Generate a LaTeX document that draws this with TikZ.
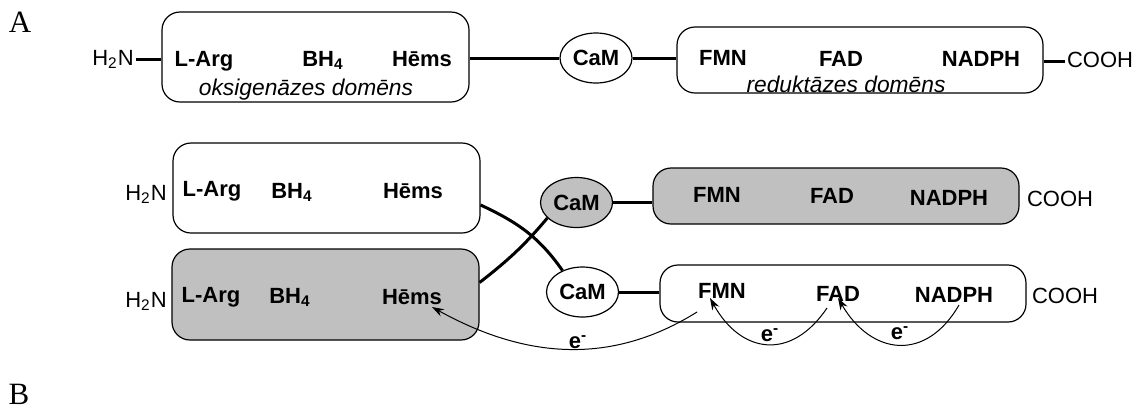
\documentclass[tikz,border=0pt]{standalone}
\usepackage{fontspec}
\setmainfont{Liberation Sans}
\newfontfamily\burtufonts{Liberation Serif}
\usepackage{tikz}
\usetikzlibrary{shapes.geometric, arrows, arrows.meta, calc}
\definecolor{melns}{HTML}{000000}
\definecolor{peleks}{HTML}{C0C0C0}
\tikzset{
  domens/.style={rectangle, rounded corners=9pt, draw=melns, fill=white, line width=0.6pt, inner sep=0pt},
  domensp/.style={domens, fill=peleks},
  kalm/.style={ellipse, draw=melns, fill=white, line width=0.6pt, inner sep=0pt,
               minimum width=36pt, minimum height=25pt, font=\fontsize{11}{13}\selectfont\bfseries},
  kalmp/.style={kalm, fill=peleks},
  kofaktors/.style={font=\fontsize{11}{13}\selectfont\bfseries, inner sep=1pt, text height=8pt, text depth=2pt},
  gals/.style={font=\fontsize{11}{13}\selectfont, inner sep=1pt, text height=8pt, text depth=2pt},
  paraksts/.style={font=\fontsize{11.4}{13}\selectfont\itshape, inner sep=1pt, text height=8.5pt, text depth=2.5pt},
  burts/.style={font=\burtufonts\fontsize{15.5}{17}\selectfont, inner sep=0pt},
  saite/.style={line width=1.5pt, color=melns},
  bulta/.style={-{Stealth[length=6pt,width=4pt,inset=2pt]}, line width=0.5pt, color=melns},
  elektrons/.style={font=\fontsize{11}{13}\selectfont\bfseries, inner sep=0pt}
}

\begin{document}
\begin{tikzpicture}[x=0.5pt, y=-0.5pt]
  \useasboundingbox (0,0) rectangle (1140,409);
  % A: viss enzims vienā virknē
  \node (burtsA) [burts] at (20,22.5) {A};
  \node (h2nA) [gals] at (113,59) {H\textsubscript{2}N};
  \node (oks) [domens, minimum width=153.5pt, minimum height=45pt] at (315.5,57) {};
  \node (argA) [kofaktors] at (204,60) {L-Arg};
  \node (bhA) [kofaktors] at (323,60) {BH\textsubscript{4}};
  \node (hemsA) [kofaktors] at (422,60) {Hēms};
  \node (okspar) [paraksts] at (306,89) {oksigenāzes domēns};
  \node (camA) [kalm] at (596,58) {CaM};
  \node (red) [domens, minimum width=183pt, minimum height=33pt] at (860,60) {};
  \node (fmnA) [kofaktors] at (723,59) {FMN};
  \node (fadA) [kofaktors] at (841,60) {FAD};
  \node (nadphA) [kofaktors] at (981,60) {NADPH};
  \node (redpar) [paraksts] at (846,86) {reduktāzes domēns};
  \node (coohA) [gals] at (1100,61) {COOH};
  \draw [saite] (h2nA.east) -- (h2nA.east -| oks.west);
  \draw [saite] (camA.west -| oks.east) -- (camA.west);
  \draw [saite] (camA.east) -- (camA.east -| red.west);
  \draw [saite] (coohA.west -| red.east) -- (coohA.west);

  % B: dimērs, elektroni iet uz otru monomēru
  \node (burtsB) [burts] at (19,394) {B};
  \node (oksu) [domens, minimum width=153.5pt, minimum height=45pt] at (326.5,188) {};
  \node (h2nu) [gals] at (146,194) {H\textsubscript{2}N};
  \node (argu) [kofaktors] at (212,190) {L-Arg};
  \node (bhu) [kofaktors] at (292,192) {BH\textsubscript{4}};
  \node (hemsu) [kofaktors] at (413,192) {Hēms};
  \node (oksl) [domensp, minimum width=153.5pt, minimum height=45.5pt] at (325.5,294.5) {};
  \node (h2nl) [gals] at (146,301) {H\textsubscript{2}N};
  \node (argl) [kofaktors] at (211,296) {L-Arg};
  \node (bhl) [kofaktors] at (290,297) {BH\textsubscript{4}};
  \node (hemsl) [kofaktors] at (412,298) {Hēms};

  \node (camu) [kalmp] at (576.5,202.5) {CaM};
  \node (redu) [domensp, minimum width=183pt, minimum height=28pt] at (836,196) {};
  \node (fmnu) [kofaktors] at (717,196) {FMN};
  \node (fadu) [kofaktors] at (832,197) {FAD};
  \node (nadphu) [kofaktors] at (949,199) {NADPH};
  \node (coohu) [gals] at (1060,200) {COOH};
  \node (caml) [kalm] at (582.5,292) {CaM};
  \node (redl) [domens, minimum width=183pt, minimum height=28.5pt] at (843,293.5) {};
  \node (fmnl) [kofaktors] at (722,292) {FMN};
  \node (fadl) [kofaktors] at (838,295) {FAD};
  \node (nadphl) [kofaktors] at (954,296) {NADPH};
  \node (coohl) [gals] at (1065,297) {COOH};

  \draw [saite] (camu.east) -- (camu.east -| redu.west);
  \draw [saite] (caml.east) -- (caml.east -| redl.west);
  \draw [saite] ([yshift=-8.5pt]oksu.east) to[out=-25, in=125] (caml.133);
  \draw [saite] ([yshift=6pt]oksl.east) to[out=38, in=-130] (camu.208);

  \draw [bulta] ([xshift=-12.5pt,yshift=-7pt]fmnl.base) to[out=-148, in=-29] ([xshift=10pt,yshift=-1.5pt]hemsl.base);
  \draw [bulta] ([xshift=-5.5pt,yshift=-3.5pt]fadl.base) to[out=-124, in=-61, looseness=1.4] ([xshift=-6pt]fmnl.base);
  \draw [bulta] ([xshift=2.5pt,yshift=-1.5pt]nadphl.base) to[out=-120, in=-60, looseness=1.4] ([yshift=1.5pt]fadl.base);
  \node (el1) [elektrons] at (578,342) {e\textsuperscript{-}};
  \node (el2) [elektrons] at (770,335) {e\textsuperscript{-}};
  \node (el3) [elektrons] at (900,333) {e\textsuperscript{-}};
\end{tikzpicture}
\end{document}
